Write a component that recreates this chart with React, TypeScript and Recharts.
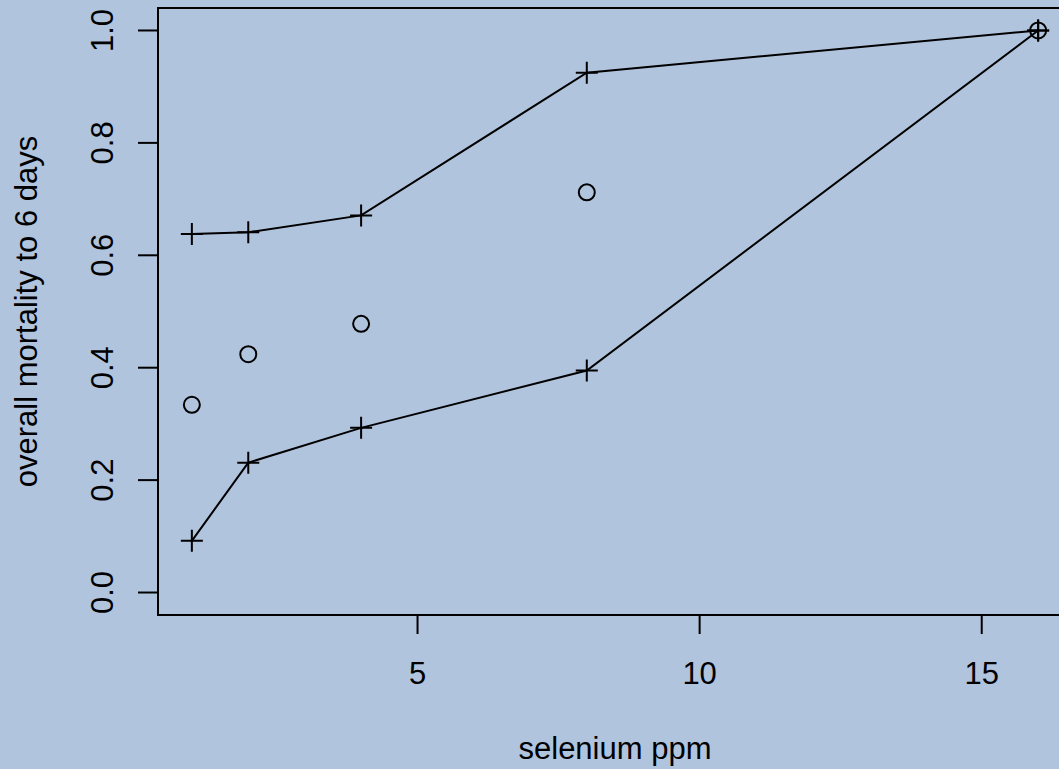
// Selenium dose vs overall mortality: observed proportions (circles)
// with upper / lower bounds (plus marks joined by lines), R base-graphics look.

import {
  ComposedChart,
  Line,
  Scatter,
  XAxis,
  YAxis,
  ReferenceArea,
  Label,
} from "recharts";

const selenium = [1, 2, 4, 8, 16];
const upperBound = [0.638, 0.641, 0.671, 0.925, 1.0];
const lowerBound = [0.092, 0.231, 0.293, 0.395, 1.0];
const observed = [0.334, 0.424, 0.478, 0.712, 1.0];

const xTicks = [5, 10, 15];
const yTicks = [0, 0.2, 0.4, 0.6, 0.8, 1.0];

const BG = "#B0C4DE";
const FONT = "'Liberation Sans', Arial, sans-serif";
const FS = 31;
const PLOT_BOTTOM = 615;

const data = selenium.map((x, i) => ({
  x,
  upper: upperBound[i],
  lower: lowerBound[i],
  obs: observed[i],
}));

function PlusMark(props: any) {
  const { cx, cy, index } = props;
  if (cx == null || cy == null) return <g key={`p-${index}`} />;
  const h = 11;
  return (
    <path
      key={`p-${index}-${cx}`}
      d={`M${cx - h},${cy}H${cx + h}M${cx},${cy - h}V${cy + h}`}
      stroke="#000"
      strokeWidth={2}
      fill="none"
    />
  );
}

function CircleMark(props: any) {
  const { cx, cy } = props;
  return <circle cx={cx} cy={cy} r={8} fill="none" stroke="#000" strokeWidth={2} />;
}

function XTick(props: any) {
  const { x, payload } = props;
  return (
    <text x={x} y={PLOT_BOTTOM + 69} textAnchor="middle" fontSize={FS} fontFamily={FONT} fill="#000">
      {payload.value}
    </text>
  );
}

function YTick(props: any) {
  const { y, payload } = props;
  const bx = 113;
  return (
    <text
      x={bx}
      y={y}
      transform={`rotate(-90, ${bx}, ${y})`}
      textAnchor="middle"
      fontSize={FS}
      fontFamily={FONT}
      fill="#000"
    >
      {Number(payload.value).toFixed(1)}
    </text>
  );
}

export default function App() {
  return (
    <div
      style={{
        position: "fixed",
        left: 0,
        top: 0,
        width: 1059,
        height: 769,
        overflow: "hidden",
        background: BG,
      }}
    >
      <ComposedChart
        width={1080}
        height={769}
        data={data}
        margin={{ top: 8, right: 8, bottom: 0, left: 0 }}
      >
        <XAxis
          type="number"
          dataKey="x"
          domain={[0.4, 16.6]}
          ticks={xTicks}
          axisLine={false}
          tickLine={{ stroke: "#000", strokeWidth: 2 }}
          tickSize={19}
          tick={<XTick />}
          height={769 - PLOT_BOTTOM}
          allowDataOverflow
        >
          <Label
            content={(p: any) => {
              const vb = p.viewBox;
              return (
                <text
                  x={vb.x + vb.width / 2}
                  y={PLOT_BOTTOM + 144}
                  textAnchor="middle"
                  fontSize={FS}
                  fontFamily={FONT}
                  fill="#000"
                >
                  selenium ppm
                </text>
              );
            }}
          />
        </XAxis>
        <YAxis
          type="number"
          domain={[-0.04, 1.04]}
          ticks={yTicks}
          axisLine={false}
          tickLine={{ stroke: "#000", strokeWidth: 2 }}
          tickSize={20}
          tick={<YTick />}
          width={158}
          allowDataOverflow
        >
          <Label
            content={(p: any) => {
              const vb = p.viewBox;
              const cy = vb.y + vb.height / 2;
              return (
                <text
                  x={37}
                  y={cy}
                  transform={`rotate(-90, 37, ${cy})`}
                  textAnchor="middle"
                  fontSize={FS}
                  fontFamily={FONT}
                  fill="#000"
                >
                  overall mortality to 6 days
                </text>
              );
            }}
          />
        </YAxis>
        <ReferenceArea
          x1={0.4}
          x2={16.6}
          y1={-0.04}
          y2={1.04}
          fill="none"
          fillOpacity={0}
          stroke="#000"
          strokeWidth={2}
          ifOverflow="visible"
        />
        <Line
          type="linear"
          dataKey="upper"
          stroke="#000"
          strokeWidth={2}
          dot={PlusMark}
          activeDot={false}
          isAnimationActive={false}
        />
        <Line
          type="linear"
          dataKey="lower"
          stroke="#000"
          strokeWidth={2}
          dot={PlusMark}
          activeDot={false}
          isAnimationActive={false}
        />
        <Scatter dataKey="obs" shape={<CircleMark />} isAnimationActive={false} />
      </ComposedChart>
    </div>
  );
}
